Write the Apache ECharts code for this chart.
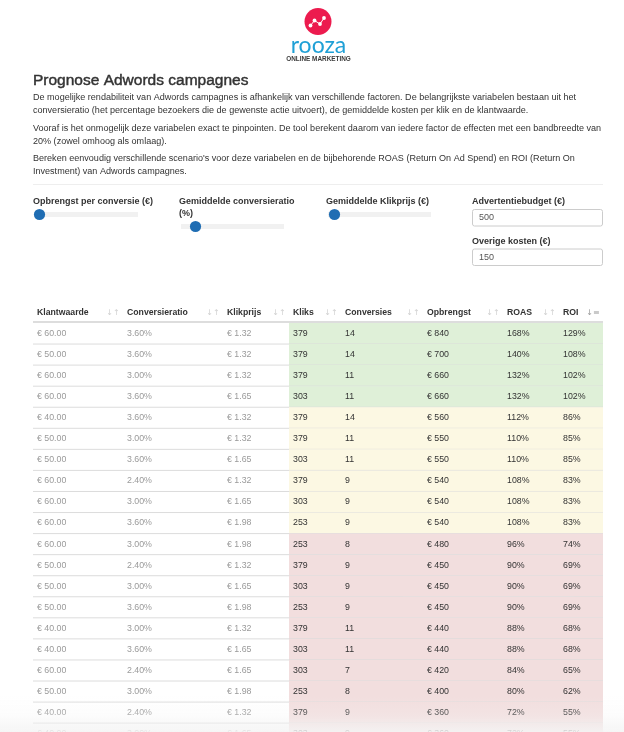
<!DOCTYPE html>
<html><head><meta charset="utf-8">
<script src="https://cdn.jsdelivr.net/npm/echarts@6/dist/echarts.min.js"></script>
<style>html,body{margin:0;padding:0;background:#fff;overflow:hidden}#c{width:624px;height:760px}</style>
</head><body><div id="c"></div>
<script>
// ---- data ----
const columns = ['Klantwaarde','Conversieratio','Klikprijs','Kliks','Conversies','Opbrengst','ROAS','ROI'];
const klantwaarde = [60,50,60,60,40,50,50,60,60,60,60,50,50,50,40,40,60,50,40,40];
const conversieratio = [3.60,3.60,3.00,3.60,3.60,3.00,3.60,2.40,3.00,3.60,3.00,2.40,3.00,3.60,3.00,3.60,2.40,3.00,2.40,3.00];
const klikprijs = [1.32,1.32,1.32,1.65,1.32,1.32,1.65,1.32,1.65,1.98,1.98,1.32,1.65,1.98,1.32,1.65,1.65,1.98,1.32,1.65];
const kliks = [379,379,379,303,379,379,303,379,303,253,253,379,303,253,379,303,303,253,379,303];
const conversies = [14,14,11,11,14,11,11,9,9,9,8,9,9,9,11,11,7,8,9,9];
const opbrengst = [840,700,660,660,560,550,550,540,540,540,480,450,450,450,440,440,420,400,360,360];
const roas = [168,140,132,132,112,110,110,108,108,108,96,90,90,90,88,88,84,80,72,72];
const roi = [129,108,102,102,86,85,85,83,83,83,74,69,69,69,68,68,65,62,55,55];

// ---- layout ----
const FONT = '"Liberation Sans", Arial, sans-serif';
const TL = 33, TW = 570;
const colLeft = [0, 90, 190, 256, 308, 390, 470, 526];
const rowTop = 323, rowH = 21.06;
const rows = klantwaarde.map((_, i) => i);

function cellTexts(i){
  return [
    '€ ' + klantwaarde[i].toFixed(2),
    conversieratio[i].toFixed(2) + '%',
    '€ ' + klikprijs[i].toFixed(2),
    String(kliks[i]),
    String(conversies[i]),
    '€ ' + opbrengst[i],
    roas[i] + '%',
    roi[i] + '%'
  ];
}
function rowColor(i){
  if (roi[i] >= 100) return '#dff0d8';
  if (roi[i] >= 80) return '#fcf8e3';
  return '#f2dede';
}

const chart = echarts.init(document.getElementById('c'), null, {renderer:'canvas'});

const graphics = [];
// logo
const dots = [[310.5,25.5],[314.5,20.5],[320,24],[324,18]];
graphics.push({type:'circle', shape:{cx:318, cy:21.5, r:13.5}, style:{fill:'#ec1b4e'}});
graphics.push({type:'polyline', shape:{points:dots}, style:{stroke:'#fff', lineWidth:1, fill:null}});
dots.forEach(p=>graphics.push({type:'circle', shape:{cx:p[0], cy:p[1], r:1.9}, style:{fill:'#fff'}}));
graphics.push({type:'text', x:318.5, y:45.5, style:{text:'rooza', fill:'#1fa0d6', font:'23px Lato, "Noto Sans", sans-serif', align:'center', verticalAlign:'middle'}});
graphics.push({type:'text', x:318.5, y:59, style:{text:'ONLINE MARKETING', fill:'#3a3a3a', font:'bold 6.4px ' + FONT, align:'center', verticalAlign:'middle'}});
// title + paragraphs
graphics.push({type:'text', x:33, y:81, style:{text:'Prognose Adwords campagnes', fill:'#333', font:'15.5px ' + FONT, verticalAlign:'middle', stroke:'#333', lineWidth:0.45}});
const paras = [
  ['De mogelijke rendabiliteit van Adwords campagnes is afhankelijk van verschillende factoren. De belangrijkste variabelen bestaan uit het', 97.5],
  ['conversieratio (het percentage bezoekers die de gewenste actie uitvoert), de gemiddelde kosten per klik en de klantwaarde.', 110.5],
  ['Vooraf is het onmogelijk deze variabelen exact te pinpointen. De tool berekent daarom van iedere factor de effecten met een bandbreedte van', 128.5],
  ['20% (zowel omhoog als omlaag).', 141.5],
  ["Bereken eenvoudig verschillende scenario's voor deze variabelen en de bijbehorende ROAS (Return On Ad Spend) en ROI (Return On", 158.5],
  ['Investment) van Adwords campagnes.', 171.5]
];
paras.forEach(p=>graphics.push({type:'text', x:33, y:p[1], style:{text:p[0], fill:'#333', font:'9.05px ' + FONT, verticalAlign:'middle'}}));
graphics.push({type:'line', shape:{x1:33, y1:184.5, x2:603, y2:184.5}, style:{stroke:'#eee', lineWidth:1}});
// sliders
const sliders = [
  {label:['Opbrengst per conversie (€)'], x:33, ty:214.5, thumb:39.5},
  {label:['Gemiddelde conversieratio','(%)'], x:179, ty:226.5, thumb:195.5},
  {label:['Gemiddelde Klikprijs (€)'], x:326, ty:214.5, thumb:334.5}
];
sliders.forEach(s=>{
  s.label.forEach((t,k)=>graphics.push({type:'text', x:s.x, y:201.5 + k*12.5, style:{text:t, fill:'#333', font:'bold 9px ' + FONT, verticalAlign:'middle'}}));
  graphics.push({type:'rect', shape:{x:s.x+2, y:s.ty-2.5, width:103, height:5}, style:{fill:'#f1f1f1'}});
  graphics.push({type:'circle', shape:{cx:s.thumb, cy:s.ty, r:5.6}, style:{fill:'#1f6db3'}});
});
// inputs
const inputs = [
  {label:'Advertentiebudget (€)', ly:201.5, by:209.5, val:'500'},
  {label:'Overige kosten (€)', ly:241.5, by:249, val:'150'}
];
inputs.forEach(o=>{
  graphics.push({type:'text', x:472, y:o.ly, style:{text:o.label, fill:'#333', font:'bold 9px ' + FONT, verticalAlign:'middle'}});
  graphics.push({type:'rect', shape:{x:472.5, y:o.by, width:130, height:16.5, r:2}, style:{fill:'#fff', stroke:'#ccc', lineWidth:1}});
  graphics.push({type:'text', x:479, y:o.by+8.5, style:{text:o.val, fill:'#555', font:'9px ' + FONT, verticalAlign:'middle'}});
});
// table header
columns.forEach((c,k)=>{
  const left = TL + colLeft[k];
  const right = TL + (k < 7 ? colLeft[k+1] : TW);
  graphics.push({type:'text', x:left+4, y:312.7, style:{text:c, fill:'#333', font:'bold 8.7px ' + FONT, verticalAlign:'middle'}});
  graphics.push({type:'text', x:right-10, y:312.5, style:{text: k < 7 ? '↓↑' : '↓≡', fill: k < 7 ? '#d0d0d0' : '#9a9a9a', font:'8px "DejaVu Sans", sans-serif', align:'center', verticalAlign:'middle'}});
});
graphics.push({type:'rect', shape:{x:TL, y:rowTop-2, width:TW, height:2}, style:{fill:'#ddd'}});
// bottom fade
graphics.push({type:'rect', z:100, shape:{x:0, y:696, width:624, height:36}, style:{fill:new echarts.graphic.LinearGradient(0,0,0,1,[{offset:0,color:'rgba(244,244,244,0)'},{offset:0.55,color:'rgba(244,244,244,0.25)'},{offset:1,color:'rgba(244,244,244,0.88)'}])}});

chart.setOption({
  animation:false,
  grid:{left:TL, width:TW, top:rowTop, height:rowH*rows.length, containLabel:false},
  xAxis:{type:'value', min:0, max:TW, show:false},
  yAxis:{type:'category', data:rows, inverse:true, show:false},
  graphic:{elements:graphics},
  series:[{
    type:'custom',
    data:rows.map(i=>[0,i]),
    encode:{x:0, y:1},
    clip:false,
    renderItem:function(params, api){
      const i = api.value(1);
      const c = api.coord([0, i]);
      const h = api.size([0, 1])[1];
      const y0 = c[1] - h/2;
      const xs = colLeft.map(v=>api.coord([v, i])[0]);
      const xEnd = api.coord([TW, i])[0];
      const texts = cellTexts(i);
      const children = [
        {type:'rect', shape:{x:xs[3], y:y0, width:xEnd - xs[3], height:h}, style:{fill:rowColor(i)}},
        {type:'line', shape:{x1:xs[0], y1:y0+h, x2:xEnd, y2:y0+h}, style:{stroke:'#dcdcdc', lineWidth:1}}
      ];
      texts.forEach((t,k)=>children.push({type:'text', x:xs[k]+4, y:c[1], style:{text:t, fill: k < 3 ? '#9a9a9a' : '#333', font:'8.8px ' + FONT, verticalAlign:'middle'}}));
      return {type:'group', children};
    }
  }]
});
</script></body></html>
